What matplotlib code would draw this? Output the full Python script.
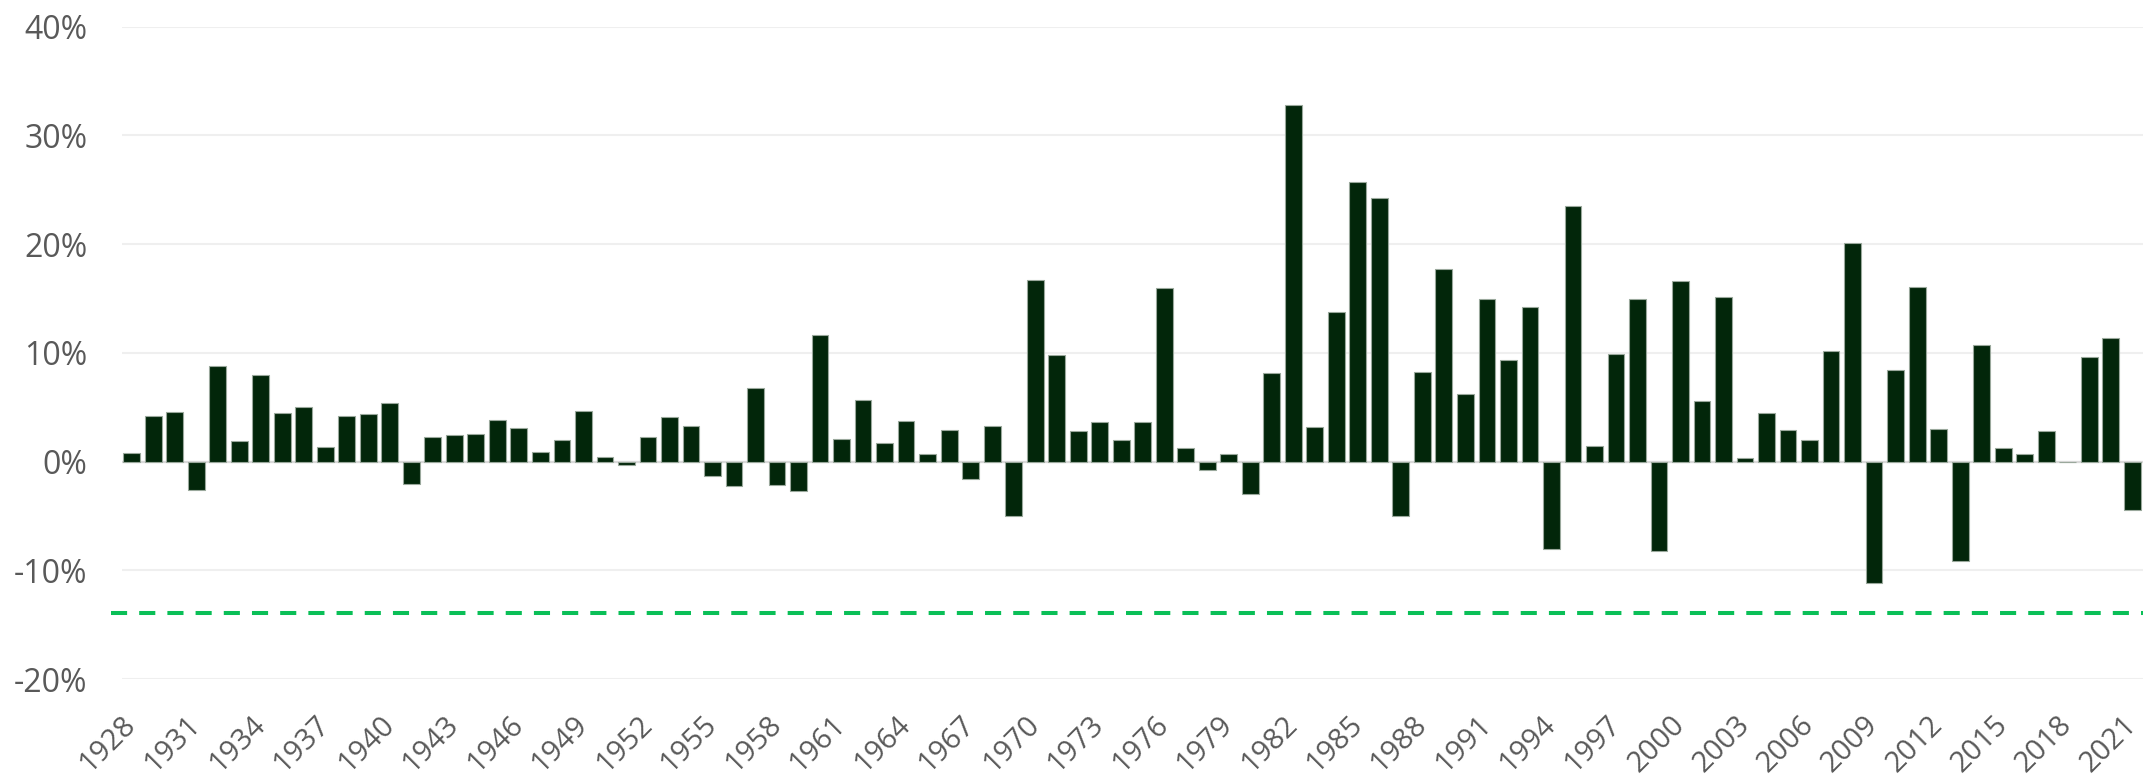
import matplotlib
matplotlib.use("Agg")
import matplotlib.pyplot as plt
import numpy as np

years = list(range(1928, 2022))
returns = [
    0.84, 4.20, 4.54, -2.56, 8.79, 1.86, 7.96, 4.47, 5.02, 1.38,
    4.21, 4.41, 5.40, -2.02, 2.29, 2.49, 2.58, 3.80, 3.13, 0.92,
    1.95, 4.66, 0.43, -0.30, 2.27, 4.14, 3.29, -1.34, -2.26, 6.80,
    -2.10, -2.65, 11.64, 2.06, 5.69, 1.68, 3.73, 0.72, 2.91, -1.58,
    3.27, -5.01, 16.75, 9.79, 2.82, 3.66, 1.99, 3.61, 15.98, 1.29,
    -0.78, 0.67, -2.99, 8.20, 32.81, 3.20, 13.73, 25.71, 24.28, -4.96,
    8.22, 17.69, 6.24, 15.00, 9.36, 14.21, -8.04, 23.48, 1.43, 9.94,
    14.92, -8.25, 16.66, 5.57, 15.12, 0.38, 4.49, 2.87, 1.96, 10.21,
    20.10, -11.12, 8.46, 16.04, 2.97, -9.10, 10.75, 1.28, 0.69, 2.80,
    -0.02, 9.64, 11.33, -4.42,
]
threshold = -13.93
y_ticks = [-20, -10, 0, 10, 20, 30, 40]
x_tick_years = years[::3]

plt.rcParams['font.family'] = ['Open Sans', 'DejaVu Sans']

W, H = 2144, 778
dpi = 100
fig = plt.figure(figsize=(W / dpi, H / dpi), dpi=dpi)
left, right = 122, 2143
top, bottom = 26.7, 679.2
ax = fig.add_axes([left / W, 1 - bottom / H, (right - left) / W, (bottom - top) / H])

x = np.arange(len(years))
ax.bar(x, returns, width=0.78, color='#02260a', edgecolor='#9aa89c', linewidth=0.8, zorder=3)

ax.set_xlim(-0.45, len(years) - 1 + 0.5)
ax.set_ylim(-20, 40)

ax.set_yticks(y_ticks)
ax.set_yticklabels([f"{v}%" for v in y_ticks])
ax.grid(axis='y', color='#efefef', linewidth=1.5, zorder=0)
ax.axhline(0, color='#d9d9d9', linewidth=1.6, zorder=2)

ax.axhline(threshold, xmin=-0.0055, xmax=1.0, color='#0abf57', linewidth=2.9,
           linestyle=(0, (4.0, 3.0)), clip_on=False, zorder=4)

tick_pos = [years.index(yv) for yv in x_tick_years]
ax.set_xticks(tick_pos)
ax.set_xticklabels([str(yv) for yv in x_tick_years], rotation=45, ha='right',
                   va='center', rotation_mode='anchor')

for s in ax.spines.values():
    s.set_visible(False)
ax.tick_params(axis='both', length=0, labelcolor='#595959')
ax.tick_params(axis='y', pad=25, labelsize=23)
ax.tick_params(axis='x', pad=30, labelsize=21)

fig.savefig('out.png', dpi=dpi, facecolor='white')
